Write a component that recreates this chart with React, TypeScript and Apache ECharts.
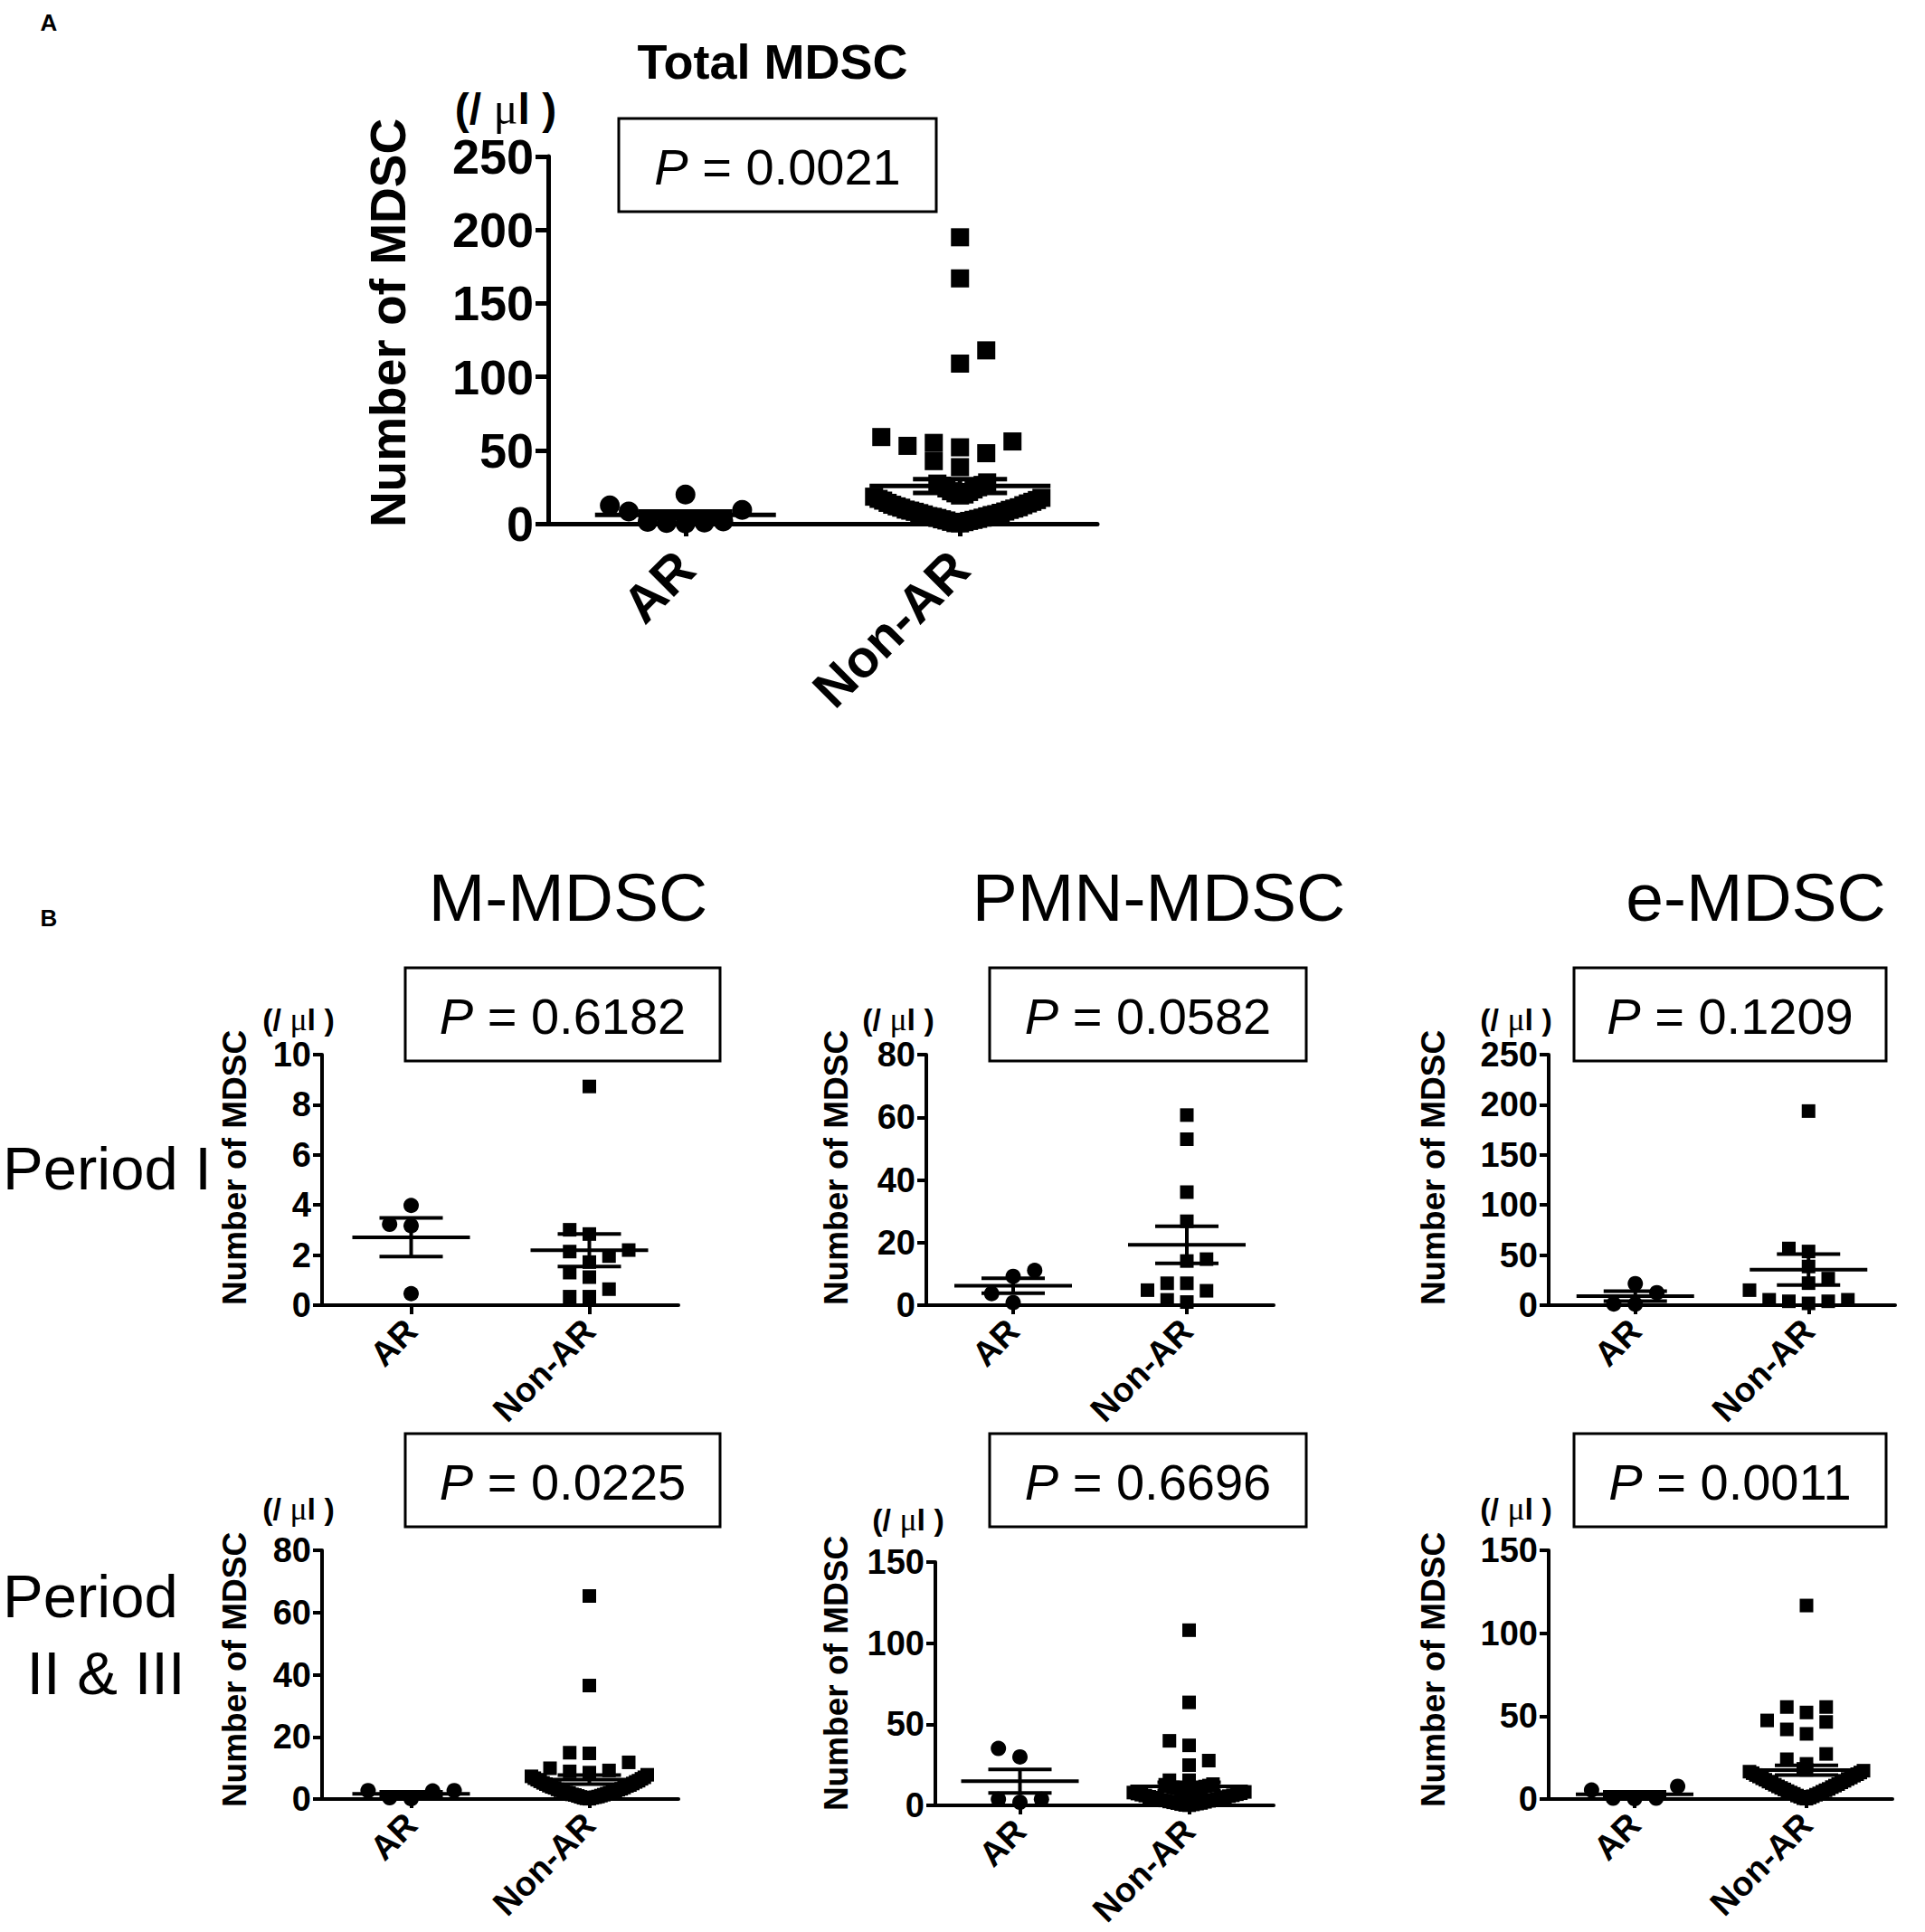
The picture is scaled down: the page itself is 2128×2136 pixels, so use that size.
import React, { useEffect, useRef } from "react";
import * as echarts from "echarts";

const FONT = "'Liberation Sans', Arial, Helvetica, sans-serif";
const SERIF = "'Liberation Serif', 'Times New Roman', serif";

// ---------- data ----------
const groupLabels = ["AR", "Non-AR"];

// Panel A: Total MDSC
const totalAR = [19.8, 9.4, 1.6, 0.8, 0.2, 0.5, 1.2, 8.3, 12.5];
const totalNonARHigh = [195, 167, 118, 109, 55, 52, 48, 53, 56, 59, 38.5, 42.6];
const totalNonARLow = [
  0.2, 0.4, 1.1, 1.3, 1.9, 2.2, 2.6, 3.0, 3.3, 3.9, 4.1, 4.7, 5.0, 5.2, 5.9, 6.3, 6.5,
  7.2, 7.4, 8.1, 8.3, 8.9, 9.4, 9.6, 10.3, 10.9, 11.2, 11.8, 12.6, 12.9, 13.8, 14.2,
  14.9, 15.7, 16.1, 16.9, 17.6, 18.4, 19.2, 19.9, 20.7, 21.6, 22.1, 23.3, 24.0, 24.8,
  25.9, 26.4, 27.3, 28.1,
];

// Period I
const mP1AR = [3.23, 3.17, 3.98, 0.46];
const mP1NonAR = [8.73, 2.84, 3.01, 2.14, 2.2, 1.72, 1.96, 1.3, 1.12, 0.64, 0.34, 0.34];
const pmnP1AR = [11.1, 9.2, 3.7, 0.8];
const pmnP1NonAR = [60.7, 53.0, 36.1, 26.8, 14.7, 14.1, 7.0, 7.0, 4.6, 4.8, 1.0, 1.7];
const eP1AR = [12.5, 21.5, 1.2, 1.0];
const eP1NonAR = [193.7, 56.6, 53.6, 38.6, 26.5, 22.0, 15.0, 5.4, 3.9, 1.8, 3.9, 5.4];

// Period II & III
const mP2AR = [2.7, 2.7, 0.1, 0.4, 2.6];
const mP2NonARHigh = [65.3, 36.5, 14.7, 14.9, 11.8, 9.9, 8.9, 8.5, 9.2];
const mP2NonARLow = [
  0.1, 0.2, 0.4, 0.4, 0.6, 0.7, 0.8, 1.0, 1.1, 1.3, 1.4, 1.5, 1.7, 1.9, 2.0, 2.1, 2.3,
  2.6, 2.6, 2.8, 3.0, 3.1, 3.3, 3.6, 3.7, 3.9, 4.2, 4.3, 4.5, 4.8, 5.0, 5.2, 5.5, 5.7,
  5.9, 6.2, 6.5, 6.7, 7.0, 7.3, 7.8,
];
const pmnP2AR = [35.1, 29.9, 3.7, 1.9, 3.7];
const pmnP2NonARHigh = [108, 63.5, 39.8, 37, 27.6, 24.8, 15.5, 15.5];
const pmnP2NonARLow = [
  0.1, 0.3, 0.6, 0.8, 1.1, 1.4, 1.5, 1.9, 2.2, 2.4, 2.8, 3.0, 3.3, 3.5, 3.9, 4.2, 4.4,
  4.8, 5.1, 5.3, 5.7, 6.0, 6.2, 6.6, 6.9, 7.3, 7.5, 7.9, 8.3, 8.6, 8.9, 9.4, 9.7, 10.0,
  10.5, 10.8, 11.1, 11.6, 11.9, 12.2, 12.7, 13.1,
];
const eP2AR = [7.7, 0.5, 0.2, 0.5, 5.4];
const eP2NonARHigh = [116.7, 52.2, 55.5, 55.5, 47.4, 46.5, 39.3, 42, 24, 21.2, 27.2];
const eP2NonARLow = [
  0.2, 0.5, 0.9, 1.4, 1.7, 2.1, 2.6, 3.1, 3.4, 3.9, 4.4, 4.8, 5.3, 5.8, 6.1, 6.7, 7.2,
  7.6, 8.1, 8.6, 9.0, 9.6, 10.1, 10.5, 11.0, 11.6, 12.1, 12.5, 13.0, 13.6, 14.1, 14.5,
  15.0, 15.6, 16.0, 16.5, 17.1, 17.6, 18.2,
];

const pValues = {
  total: "0.0021",
  mP1: "0.6182",
  pmnP1: "0.0582",
  eP1: "0.1209",
  mP2: "0.0225",
  pmnP2: "0.6696",
  eP2: "0.0011",
};

const columnTitles = ["M-MDSC", "PMN-MDSC", "e-MDSC"];
const yTitle = "Number of MDSC";
const unitLabel = "(/ {m|\u03bc}l )";

// ---------- helpers ----------
function stats(v: number[]) {
  const n = v.length;
  const mean = v.reduce((a, b) => a + b, 0) / n;
  const sd = Math.sqrt(v.reduce((a, b) => a + (b - mean) * (b - mean), 0) / (n - 1));
  return { mean, sem: sd / Math.sqrt(n) };
}

// deterministic beeswarm layout (pixel offsets); points placed in ascending order
function swarm(values: number[], pxPerY: number, step: number, collX: number, collY: number, maxK: number) {
  const order = values.map((_, i) => i).sort((a, b) => values[a] - values[b]);
  const placed: { x: number; y: number }[] = [];
  const out = new Array(values.length).fill(0);
  let flip = false;
  for (const i of order) {
    const y = values[i] * pxPerY;
    let chosen: number | null = null;
    let bestK = 0;
    let bestScore = Infinity;
    for (let a = 0; a <= maxK && chosen === null; a++) {
      const ks = a === 0 ? [0] : flip ? [a, -a] : [-a, a];
      for (const k of ks) {
        const x = k * step;
        let score = 0;
        for (const p of placed) {
          const dx = Math.abs(p.x - x);
          const dy = Math.abs(p.y - y);
          if (dx < collX - 0.01 && dy < collY) score += (1 - dx / (collX + 1)) * (1 - dy / (collY + 1)) + 0.001;
        }
        if (score === 0) {
          chosen = k;
          break;
        }
        if (score < bestScore - 1e-9) {
          bestScore = score;
          bestK = k;
        }
      }
    }
    const k = chosen === null ? bestK : chosen;
    if (k !== 0) flip = k < 0;
    placed.push({ x: k * step, y });
    out[i] = k * step;
  }
  return out;
}

type Panel = {
  ar: number[];
  nonHigh: number[];
  nonLow: number[];
  grid: { left: number; top: number; width: number; height: number };
  max: number;
  interval: number;
  big: boolean;
  arColl: number;
  lowStep: number;
  lowCollY: number;
};

const panels: Panel[] = [
  { ar: totalAR, nonHigh: totalNonARHigh, nonLow: totalNonARLow, grid: { left: 606, top: 173, width: 607, height: 406 }, max: 250, interval: 50, big: true, arColl: 0.95, lowStep: 5, lowCollY: 30 },
  { ar: mP1AR, nonHigh: mP1NonAR, nonLow: [], grid: { left: 356, top: 1166, width: 394, height: 277 }, max: 10, interval: 2, big: false, arColl: 1.4, lowStep: 4, lowCollY: 15 },
  { ar: pmnP1AR, nonHigh: pmnP1NonAR, nonLow: [], grid: { left: 1024, top: 1166, width: 384, height: 277 }, max: 80, interval: 20, big: false, arColl: 1.4, lowStep: 4, lowCollY: 15 },
  { ar: eP1AR, nonHigh: eP1NonAR, nonLow: [], grid: { left: 1712, top: 1166, width: 383, height: 277 }, max: 250, interval: 50, big: false, arColl: 1.4, lowStep: 4, lowCollY: 15 },
  { ar: mP2AR, nonHigh: mP2NonARHigh, nonLow: mP2NonARLow, grid: { left: 356, top: 1714, width: 394, height: 275 }, max: 80, interval: 20, big: false, arColl: 1.4, lowStep: 3.2, lowCollY: 28 },
  { ar: pmnP2AR, nonHigh: pmnP2NonARHigh, nonLow: pmnP2NonARLow, grid: { left: 1034, top: 1727, width: 374, height: 269 }, max: 150, interval: 50, big: false, arColl: 1.4, lowStep: 4.4, lowCollY: 15 },
  { ar: eP2AR, nonHigh: eP2NonARHigh, nonLow: eP2NonARLow, grid: { left: 1712, top: 1714, width: 380, height: 275 }, max: 150, interval: 50, big: false, arColl: 1.4, lowStep: 3.5, lowCollY: 31 },
];

function buildOption() {
  const grids: any[] = [];
  const xAxes: any[] = [];
  const yAxes: any[] = [];
  const series: any[] = [];

  panels.forEach((p, idx) => {
    const lw = p.big ? 5 : 4;
    const tickLen = p.big ? 14 : 10;
    const sq = p.big ? 20 : 15;
    const ci = p.big ? 22 : 17;
    const meanHalf = p.big ? 100 : 65;
    const semHalf = p.big ? 52 : 35;
    const line = { color: "#000", width: lw };
    grids.push({ ...p.grid, containLabel: false });
    xAxes.push({
      type: "category",
      gridIndex: idx,
      data: groupLabels,
      boundaryGap: true,
      axisLine: { show: true, onZero: false, lineStyle: line },
      axisTick: { show: true, alignWithLabel: true, length: tickLen, lineStyle: line },
      axisLabel: {
        rotate: 45,
        interval: 0,
        margin: p.big ? 40 : 22,
        fontSize: p.big ? 58 : 38,
        fontWeight: "bold",
        fontFamily: FONT,
        color: "#000",
      },
      splitLine: { show: false },
    });
    xAxes.push({ type: "value", gridIndex: idx, min: 0, max: 2, show: false });
    yAxes.push({
      type: "value",
      gridIndex: idx,
      min: 0,
      max: p.max,
      interval: p.interval,
      axisLine: { show: true, onZero: false, lineStyle: line },
      axisTick: { show: true, length: tickLen, lineStyle: line },
      axisLabel: {
        margin: p.big ? 16 : 12,
        fontSize: p.big ? 54 : 38,
        fontWeight: "bold",
        fontFamily: FONT,
        color: "#000",
      },
      splitLine: { show: false },
    });

    const pxPerY = p.grid.height / p.max;
    const pxPerX = p.grid.width / 2;
    const arCX = ci * p.arColl;
    const offAR = swarm(p.ar, pxPerY, arCX / 2, arCX, ci, 12);
    const hiCX = sq * 1.45;
    const offHigh = swarm(p.nonHigh, pxPerY, hiCX / 2, hiCX, sq, 12);
    const offLow = swarm(p.nonLow, pxPerY, p.lowStep, p.lowStep, p.lowCollY, 40);
    const nonAll = [...p.nonHigh, ...p.nonLow];
    const offNon = [...offHigh, ...offLow];

    series.push({
      type: "scatter",
      xAxisIndex: idx * 2 + 1,
      yAxisIndex: idx,
      symbol: "circle",
      symbolSize: ci,
      itemStyle: { color: "#000", opacity: 1 },
      silent: true,
      clip: false,
      data: p.ar.map((v, i) => [0.5 + offAR[i] / pxPerX, v]),
      z: 3,
    });
    series.push({
      type: "scatter",
      xAxisIndex: idx * 2 + 1,
      yAxisIndex: idx,
      symbol: "rect",
      symbolSize: sq,
      itemStyle: { color: "#000", opacity: 1 },
      silent: true,
      clip: false,
      data: nonAll.map((v, i) => [1.5 + offNon[i] / pxPerX, v]),
      z: 3,
    });
    const sa = stats(p.ar);
    const sn = stats(nonAll);
    series.push({
      type: "custom",
      xAxisIndex: idx * 2 + 1,
      yAxisIndex: idx,
      silent: true,
      z: 4,
      encode: { x: 0, y: 1 },
      data: [
        [0.5, sa.mean, sa.sem],
        [1.5, sn.mean, sn.sem],
      ],
      renderItem: (_params: any, api: any) => {
        const cx = api.value(0);
        const m = api.value(1);
        const s = api.value(2);
        const pm = api.coord([cx, m]);
        const pu = api.coord([cx, m + s]);
        const pl = api.coord([cx, Math.max(m - s, 0)]);
        const style = { stroke: "#000", lineWidth: lw };
        return {
          type: "group",
          children: [
            { type: "line", shape: { x1: pm[0] - meanHalf, y1: pm[1], x2: pm[0] + meanHalf, y2: pm[1] }, style },
            { type: "line", shape: { x1: pu[0] - semHalf, y1: pu[1], x2: pu[0] + semHalf, y2: pu[1] }, style },
            { type: "line", shape: { x1: pl[0] - semHalf, y1: pl[1], x2: pl[0] + semHalf, y2: pl[1] }, style },
            { type: "line", shape: { x1: pu[0], y1: pu[1], x2: pl[0], y2: pl[1] }, style },
          ],
        };
      },
    });
  });

  const txt = (x: number, y: number, text: string, size: number, opts: any = {}) => ({
    type: "text",
    x,
    y,
    rotation: opts.rotation || 0,
    z: 100,
    silent: true,
    style: {
      text,
      fontSize: size,
      fontFamily: opts.family || FONT,
      fontWeight: opts.weight || "normal",
      fill: "#000",
      align: opts.align || "center",
      textAlign: opts.align || "center",
      verticalAlign: "middle",
      textVerticalAlign: "middle",
      rich: opts.rich,
    },
  });
  const unitRich = (size: number) => ({
    m: { fontFamily: SERIF, fontSize: size * 1.05, fontWeight: "normal", fill: "#000" },
  });
  const pBox = (x: number, y: number, w: number, h: number, val: string) => [
    {
      type: "rect",
      z: 99,
      silent: true,
      shape: { x, y, width: w, height: h },
      style: { fill: "#fff", stroke: "#000", lineWidth: 3 },
    },
    txt(x + w / 2, y + h / 2 + 2, `{i|P} = ${val}`, 56, {
      rich: { i: { fontStyle: "italic", fontSize: 56, fontFamily: FONT, fill: "#000" } },
    }),
  ];

  const graphic: any[] = [
    txt(54, 25, "A", 26, { weight: "bold" }),
    txt(854, 68, "Total MDSC", 54, { weight: "bold" }),
    txt(559, 120, unitLabel, 48, { weight: "bold", rich: unitRich(48) }),
    ...pBox(684, 131, 351, 103, pValues.total),
    txt(429, 357, yTitle, 55, { weight: "bold", rotation: Math.PI / 2 }),

    txt(54, 1015, "B", 26, { weight: "bold" }),
    txt(628, 992, columnTitles[0], 75),
    txt(1281, 992, columnTitles[1], 75),
    txt(1941, 992, columnTitles[2], 75),
    txt(3, 1291, "Period I", 67, { align: "left" }),
    txt(3, 1764, "Period", 67, { align: "left" }),
    txt(117, 1849, "II & III", 67),

    ...pBox(448, 1070, 348, 103, pValues.mP1),
    ...pBox(1094, 1070, 350, 103, pValues.pmnP1),
    ...pBox(1740, 1070, 345, 103, pValues.eP1),
    ...pBox(448, 1585, 348, 103, pValues.mP2),
    ...pBox(1094, 1585, 350, 103, pValues.pmnP2),
    ...pBox(1740, 1585, 345, 103, pValues.eP2),

    txt(330, 1127, unitLabel, 34, { weight: "bold", rich: unitRich(34) }),
    txt(993, 1127, unitLabel, 34, { weight: "bold", rich: unitRich(34) }),
    txt(1676, 1127, unitLabel, 34, { weight: "bold", rich: unitRich(34) }),
    txt(330, 1668, unitLabel, 34, { weight: "bold", rich: unitRich(34) }),
    txt(1004, 1680, unitLabel, 34, { weight: "bold", rich: unitRich(34) }),
    txt(1676, 1668, unitLabel, 34, { weight: "bold", rich: unitRich(34) }),

    txt(259, 1291, yTitle, 37, { weight: "bold", rotation: Math.PI / 2 }),
    txt(924, 1291, yTitle, 37, { weight: "bold", rotation: Math.PI / 2 }),
    txt(1584, 1291, yTitle, 37, { weight: "bold", rotation: Math.PI / 2 }),
    txt(259, 1846, yTitle, 37, { weight: "bold", rotation: Math.PI / 2 }),
    txt(924, 1850, yTitle, 37, { weight: "bold", rotation: Math.PI / 2 }),
    txt(1584, 1846, yTitle, 37, { weight: "bold", rotation: Math.PI / 2 }),
  ];

  return {
    animation: false,
    backgroundColor: "#fff",
    grid: grids,
    xAxis: xAxes,
    yAxis: yAxes,
    series,
    graphic,
  };
}

export default function App() {
  const ref = useRef<HTMLDivElement>(null);
  useEffect(() => {
    if (!ref.current) return;
    const chart = echarts.init(ref.current, undefined, { renderer: "svg" });
    chart.setOption(buildOption() as any);
    return () => chart.dispose();
  }, []);
  return (
    <div
      ref={ref}
      style={{ position: "absolute", left: 0, top: 0, width: 2128, height: 2136, background: "#fff" }}
    />
  );
}
